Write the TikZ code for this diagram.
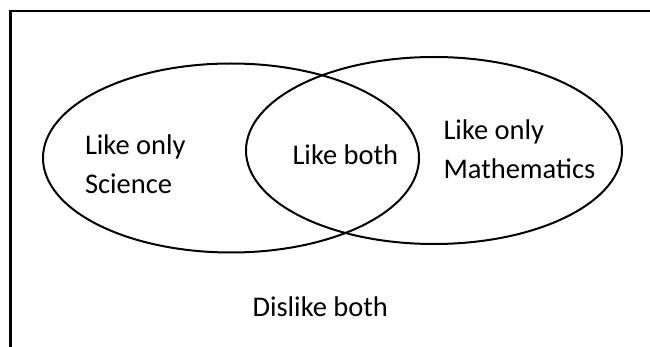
\documentclass[tikz,border=0pt]{standalone}
\usepackage{fontspec}
\setmainfont{Carlito}
\begin{document}
\begin{tikzpicture}[x=1pt,y=-1pt,
  frameline/.style={line width=2.4pt, black},
  setline/.style={line width=2pt, black},
  lbl/.style={anchor=base west, inner sep=0pt, outer sep=0pt,
    font=\fontsize{28.5pt}{34pt}\selectfont}]
  \useasboundingbox (0,0) rectangle (650,347);
  \clip (0,0) rectangle (650,347);
  % universal set frame (runs past the right and bottom edges)
  \draw[frameline] (10.5,11.2) rectangle (670,370);
  % the two sets
  \draw[setline] (231,158) ellipse [x radius=188, y radius=94.5];
  \draw[setline] (434,150.5) ellipse [x radius=188, y radius=93.5];
  % region labels
  \node[lbl] (sci1) at (85,155) {Like only};
  \node[lbl] (sci2) at (85,193.5) {Science};
  \node[lbl] (both) at (292.5,165) {Like both};
  \node[lbl] (math1) at (443.5,139.5) {Like only};
  \node[lbl] (math2) at (443.5,178.5) {Mathematics};
  \node[lbl] (none) at (252.5,316) {Dislike both};
\end{tikzpicture}
\end{document}
